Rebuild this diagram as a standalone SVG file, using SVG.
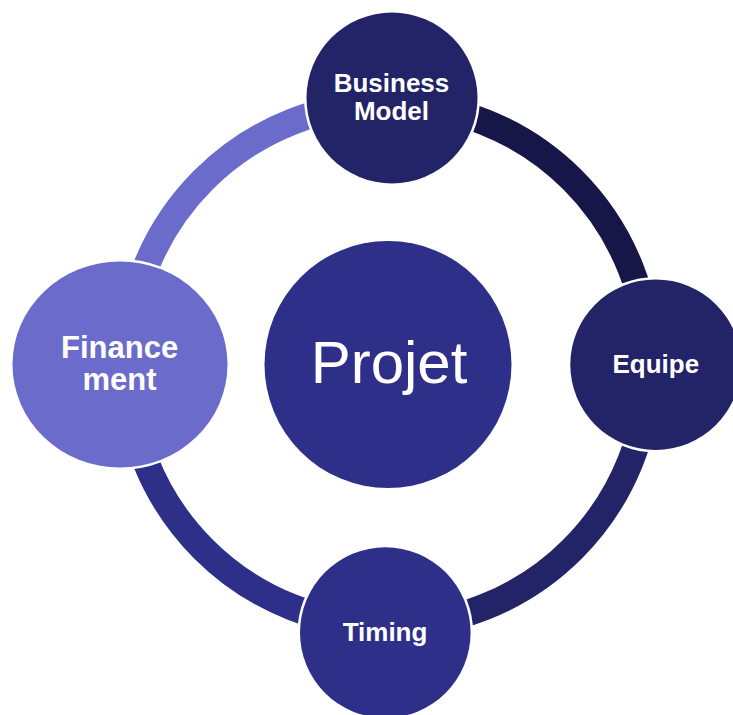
<svg xmlns="http://www.w3.org/2000/svg" width="733" height="715" viewBox="0 0 733 715">
  <style>
    .seg { fill: none; stroke-width: 26.5; }
    .node { stroke: #FFFFFF; stroke-width: 5; paint-order: stroke; }
    .lbl { font-family: "Liberation Sans", Arial, sans-serif; font-weight: bold; fill: #FFFFFF; text-anchor: middle; }
    .big { font-family: "Liberation Sans", Arial, sans-serif; font-weight: normal; fill: #FFFFFF; text-anchor: middle; }
  </style>
  <rect x="0" y="0" width="733" height="715" fill="#FFFFFF"/>
  <g id="connectors">
    <path class="seg" stroke="#6B6BCC" d="M127,364.5 A261,261 0 0 1 388,103.5"/>
    <path class="seg" stroke="#161648" d="M388,103.5 A261,261 0 0 1 649,364.5"/>
    <path class="seg" stroke="#232368" d="M649,364.5 A261,261 0 0 1 388,625.5"/>
    <path class="seg" stroke="#2E2F89" d="M388,625.5 A261,261 0 0 1 127,364.5"/>
  </g>
  <g id="node-projet">
    <circle cx="388" cy="364.5" r="123.5" fill="#2E2F89"/>
    <text class="big" x="389" y="383" font-size="60">Projet</text>
  </g>
  <g id="node-business-model">
    <circle class="node" cx="392" cy="98" r="85.5" fill="#232368"/>
    <text class="lbl" x="391.5" y="91.7" font-size="26">Business</text>
    <text class="lbl" x="391.5" y="120" font-size="26">Model</text>
  </g>
  <g id="node-equipe">
    <circle class="node" cx="655.6" cy="364.7" r="85.3" fill="#232368"/>
    <text class="lbl" x="655.8" y="372.7" font-size="26">Equipe</text>
  </g>
  <g id="node-timing">
    <circle class="node" cx="385.3" cy="632.6" r="85.3" fill="#2E2F89"/>
    <text class="lbl" x="385" y="641" font-size="26">Timing</text>
  </g>
  <g id="node-financement">
    <ellipse class="node" cx="120" cy="364.5" rx="107.5" ry="103" fill="#6B6BCC"/>
    <text class="lbl" x="119.6" y="358.3" font-size="31">Finance</text>
    <text class="lbl" x="119.6" y="390" font-size="31">ment</text>
  </g>
</svg>
